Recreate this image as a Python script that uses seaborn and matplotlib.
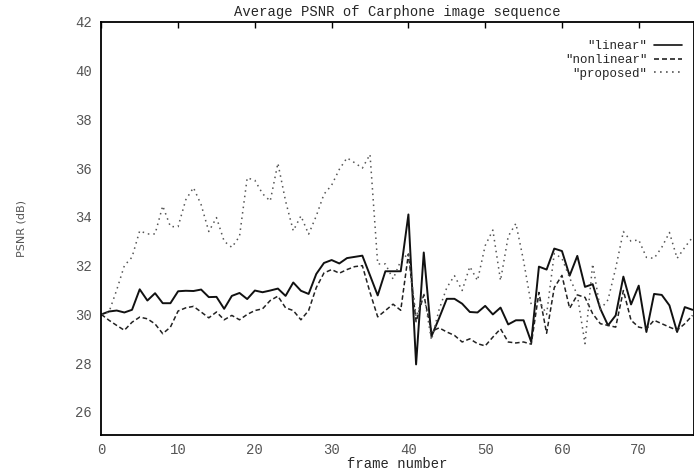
import numpy as np
import pandas as pd
import matplotlib
matplotlib.use('Agg')
import matplotlib.pyplot as plt
import seaborn as sns

# PSNR per frame (frames 0..77)
frames = list(range(78))

linear = [30.0, 30.12, 30.16, 30.08, 30.19, 31.03, 30.57, 30.87, 30.46, 30.46,
          30.95, 30.97, 30.96, 31.02, 30.71, 30.72, 30.23, 30.76, 30.88, 30.63,
          30.98, 30.91, 30.98, 31.06, 30.76, 31.31, 30.97, 30.84, 31.66, 32.11,
          32.23, 32.09, 32.31, 32.36, 32.41, 31.6, 30.78, 31.77, 31.77, 31.77,
          34.1, 27.95, 32.54, 29.1, 29.85, 30.64, 30.64, 30.44, 30.1, 30.08,
          30.35, 30.0, 30.28, 29.59, 29.76, 29.76, 28.87, 31.96, 31.84, 32.7,
          32.6, 31.59, 32.4, 31.13, 31.24, 30.23, 29.55, 29.96, 31.55, 30.41,
          31.18, 29.28, 30.84, 30.8, 30.37, 29.28, 30.3, 30.19]

nonlinear = [30.0, 29.76, 29.55, 29.35, 29.68, 29.89, 29.82, 29.61, 29.21, 29.48,
             30.14, 30.27, 30.33, 30.1, 29.86, 30.1, 29.78, 29.96, 29.78, 30.0,
             30.16, 30.23, 30.57, 30.75, 30.27, 30.16, 29.78, 30.16, 31.1, 31.7,
             31.84, 31.69, 31.84, 31.96, 32.0, 30.9, 29.9, 30.16, 30.42, 30.17,
             32.48, 29.7, 30.8, 29.3, 29.45, 29.28, 29.14, 28.87, 29.0, 28.8,
             28.71, 29.07, 29.41, 28.87, 28.83, 28.87, 28.78, 30.9, 29.23, 31.1,
             31.6, 30.25, 30.8, 30.7, 30.03, 29.62, 29.55, 29.48, 30.98, 29.76,
             29.48, 29.41, 29.76, 29.62, 29.48, 29.35, 29.62, 29.96]

proposed = [30.0, 30.1, 31.0, 32.0, 32.35, 33.43, 33.3, 33.3, 34.45, 33.6,
            33.6, 34.7, 35.2, 34.5, 33.4, 33.97, 33.0, 32.75, 33.2, 35.6,
            35.5, 34.95, 34.65, 36.2, 34.65, 33.43, 34.04, 33.29, 34.04, 34.93,
            35.3, 35.95, 36.42, 36.22, 36.0, 36.56, 32.07, 32.07, 31.45, 32.2,
            32.5, 29.9, 30.86, 28.95, 30.2, 31.1, 31.59, 30.98, 31.96, 31.39,
            32.82, 33.46, 31.39, 33.2, 33.73, 32.2, 30.4, 30.6, 30.0, 32.5,
            32.3, 31.5, 30.8, 28.8, 32.07, 30.2, 30.6, 31.9, 33.4, 33.0,
            33.06, 32.34, 32.3, 32.75, 33.36, 32.3, 32.75, 33.16]

methods = ['"linear"', '"nonlinear"', '"proposed"']
x_ticks = [0, 10, 20, 30, 40, 50, 60, 70]
y_ticks = [26, 28, 30, 32, 34, 36, 38, 40, 42]

df = pd.DataFrame({
    'frame': frames * 3,
    'psnr': linear + nonlinear + proposed,
    'method': [m for m in methods for _ in frames],
})

sns.set_theme(style='white')
plt.rcParams['font.family'] = ['Liberation Mono', 'DejaVu Sans']

fig = plt.figure(figsize=(6.94, 4.74), dpi=100)
ax = fig.add_axes([0.146, 0.082, 0.854, 0.872])

palette = {methods[0]: '#111111', methods[1]: '#222222', methods[2]: '#555555'}
dashes = {methods[0]: '', methods[1]: (3, 1.8), methods[2]: (1, 2.6)}
sns.lineplot(data=df, x='frame', y='psnr', hue='method', style='method',
             palette=palette, dashes=dashes, linewidth=1.2, ax=ax)

# solid a little heavier, the others thinner like the scan
for line, lw in zip(ax.get_lines()[:3], [1.4, 1.1, 1.1]):
    line.set_linewidth(lw)

ax.set_xlim(0, 77.2)
ax.set_ylim(25.05, 42)
ax.set_xticks(x_ticks)
ax.set_yticks(y_ticks)
ax.tick_params(axis='both', direction='in', length=4, width=1.0, color='black',
               labelsize=10, labelcolor='#555555', pad=7)
ax.tick_params(axis='x', top=True, pad=6)

for s in ax.spines.values():
    s.set_visible(True)
    s.set_color('black')
    s.set_linewidth(1.3)

ax.set_title('Average PSNR of Carphone image sequence', fontsize=10, pad=4)
ax.set_xlabel('frame number', fontsize=10, labelpad=0)
ax.set_ylabel('PSNR (dB)', fontsize=8, color='#555555', family='DejaVu Sans')
ax.yaxis.set_label_coords(-0.127, 0.5)

handles, labels = ax.get_legend_handles_labels()
ax.legend(handles[-3:], labels[-3:], loc='upper right', frameon=False,
          markerfirst=False, fontsize=9, handlelength=2.3, handletextpad=0.5,
          labelspacing=0.15, borderaxespad=0.9, bbox_to_anchor=(1.008, 0.995))

fig.savefig('out.png', dpi=100)
